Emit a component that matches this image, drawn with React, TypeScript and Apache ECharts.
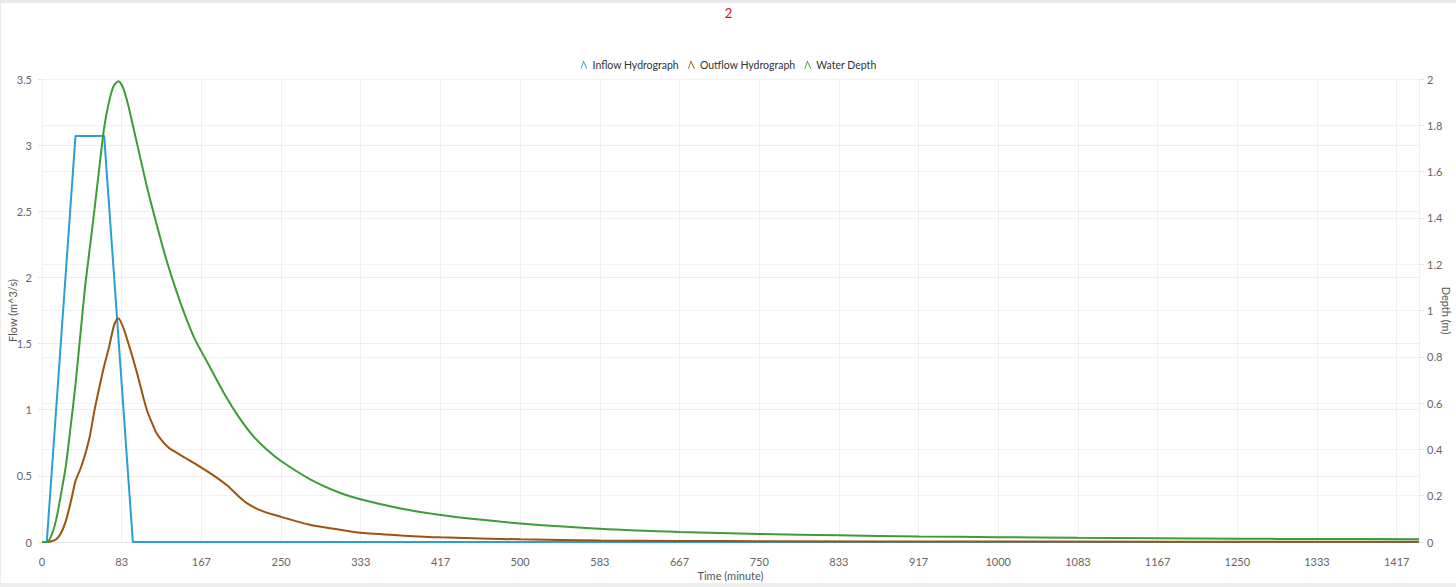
import React, { useEffect, useRef } from "react";
import * as echarts from "echarts";

const chartTitle = "2";
const seriesNames = ["Inflow Hydrograph", "Outflow Hydrograph", "Water Depth"];

// [time (minute), flow (m^3/s)]
const inflow: [number, number][] = [
  [0, 0], [5, 0], [35, 3.07], [65, 3.07], [95, 0], [1440, 0],
];

// [time (minute), flow (m^3/s)]
const outflow: [number, number][] = [
  [0, 0], [5, 0], [10, 0.005], [15, 0.02], [20, 0.07], [25, 0.16], [30, 0.3],
  [35, 0.46], [40, 0.55], [45, 0.66], [50, 0.8], [55, 1.0], [60, 1.17],
  [65, 1.33], [70, 1.47], [75, 1.63], [78, 1.68], [80, 1.69], [85, 1.62],
  [90, 1.51], [95, 1.39], [100, 1.26], [105, 1.12], [110, 0.99], [115, 0.9],
  [120, 0.82], [125, 0.77], [130, 0.73], [135, 0.7], [150, 0.635], [165, 0.57],
  [180, 0.5], [195, 0.42], [205, 0.35], [215, 0.29], [230, 0.235], [250, 0.19],
  [280, 0.13], [310, 0.095], [333, 0.07], [375, 0.05], [417, 0.035],
  [500, 0.02], [583, 0.012], [667, 0.008], [750, 0.006], [1000, 0.003],
  [1440, 0.001],
];

// [time (minute), depth (m)]
const depth: [number, number][] = [
  [0, 0], [5, 0], [10, 0.03], [15, 0.1], [20, 0.21], [25, 0.33], [30, 0.5],
  [35, 0.68], [40, 0.89], [45, 1.1], [50, 1.27], [55, 1.44], [60, 1.62],
  [65, 1.79], [70, 1.9], [75, 1.97], [80, 1.99], [85, 1.96], [90, 1.89],
  [95, 1.8], [100, 1.71], [110, 1.53], [120, 1.37], [130, 1.22], [140, 1.09],
  [150, 0.975], [160, 0.875], [175, 0.76], [190, 0.645], [205, 0.545],
  [220, 0.462], [235, 0.4], [250, 0.35], [280, 0.272], [310, 0.215],
  [333, 0.185], [375, 0.145], [417, 0.117], [460, 0.096], [500, 0.08],
  [583, 0.057], [667, 0.043], [750, 0.035], [833, 0.029], [917, 0.024],
  [1000, 0.021], [1083, 0.018], [1167, 0.016], [1250, 0.014], [1333, 0.013],
  [1440, 0.012],
];

const xMin = 0;
const xMax = 1440;
const xInterval = 250 / 3;
const flowMax = 3.5;
const flowInterval = 0.5;
const depthMax = 2;
const depthInterval = 0.2;

const colors = ["#2a9fd6", "#a0520f", "#3e9b36"];
const FONT = "Lato, 'Noto Sans', sans-serif";
const iconPath = "path://M0,12 L4.2,0 L10,12 L8.6,12 L4.3,3.2 L1.3,12 Z";

export default function App() {
  const ref = useRef<HTMLDivElement>(null);

  useEffect(() => {
    if (!ref.current) return;
    const chart = echarts.init(ref.current, undefined, { renderer: "svg" });
    const axisLabelStyle = { color: "#666", fontSize: 11, fontFamily: FONT };
    const nameStyle = { color: "#555", fontSize: 11, fontFamily: FONT };
    chart.setOption({
      animation: false,
      backgroundColor: "#fff",
      color: colors,
      textStyle: { fontFamily: FONT },
      title: {
        text: chartTitle,
        left: "center",
        top: 3,
        padding: 0,
        textStyle: { color: "#d41414", fontSize: 13, fontWeight: "normal", fontFamily: FONT },
      },
      legend: {
        top: 51,
        left: "center",
        itemWidth: 7,
        itemHeight: 11,
        itemGap: 9,
        icon: iconPath,
        textStyle: { color: "#333", fontSize: 10.5, fontFamily: FONT },
        data: seriesNames,
      },
      grid: {
        left: 41,
        right: 37,
        top: 76,
        bottom: 41,
        containLabel: false,
        outerBoundsMode: "none",
      },
      xAxis: {
        type: "value",
        min: xMin,
        max: xMax,
        interval: xInterval,
        name: "Time (minute)",
        nameLocation: "middle",
        nameGap: 28,
        nameMoveOverlap: false,
        nameTextStyle: nameStyle,
        axisLine: { show: true, lineStyle: { color: "#e3e3e3" } },
        axisTick: { show: false },
        axisLabel: {
          ...axisLabelStyle,
          margin: 14,
          showMaxLabel: false,
          formatter: (v: number) => String(Math.round(v)),
        },
        splitLine: { show: true, lineStyle: { color: "#f0f0f0" } },
      },
      yAxis: [
        {
          type: "value",
          min: 0,
          max: flowMax,
          interval: flowInterval,
          name: "Flow (m^3/s)",
          nameLocation: "middle",
          nameGap: 24,
          nameMoveOverlap: false,
          nameTextStyle: nameStyle,
          axisLine: { show: false },
          axisTick: { show: true, length: 4, lineStyle: { color: "#e6e6e6" } },
          axisLabel: { ...axisLabelStyle, margin: 10 },
          splitLine: { show: true, lineStyle: { color: "#ededed" } },
        },
        {
          type: "value",
          min: 0,
          max: depthMax,
          interval: depthInterval,
          name: "Depth (m)",
          nameLocation: "middle",
          nameGap: 22,
          nameRotate: -90,
          nameMoveOverlap: false,
          nameTextStyle: nameStyle,
          axisLine: { show: false },
          axisTick: { show: true, length: 5, lineStyle: { color: "#e6e6e6" } },
          axisLabel: { ...axisLabelStyle, margin: 8 },
          splitLine: { show: true, lineStyle: { color: "#f2f2f2" } },
        },
      ],
      series: [
        {
          name: seriesNames[0],
          type: "line",
          data: inflow,
          showSymbol: false,
          yAxisIndex: 0,
          lineStyle: { width: 2, color: colors[0] },
          itemStyle: { color: colors[0] },
          z: 3,
        },
        {
          name: seriesNames[1],
          type: "line",
          data: outflow,
          showSymbol: false,
          smooth: 0.25,
          yAxisIndex: 0,
          lineStyle: { width: 2, color: colors[1] },
          itemStyle: { color: colors[1] },
          z: 4,
        },
        {
          name: seriesNames[2],
          type: "line",
          data: depth,
          showSymbol: false,
          smooth: 0.25,
          yAxisIndex: 1,
          lineStyle: { width: 2, color: colors[2] },
          itemStyle: { color: colors[2] },
          z: 5,
        },
      ],
    });
    return () => chart.dispose();
  }, []);

  return (
    <div
      style={{
        position: "fixed",
        top: 0,
        left: 0,
        width: 1456,
        height: 587,
        boxSizing: "border-box",
        borderTop: "3px solid #e8e8e8",
        borderBottom: "4px solid #ececec",
        borderLeft: "1px solid #ececec",
        background: "#fff",
      }}
    >
      <div ref={ref} style={{ width: "100%", height: "100%" }} />
    </div>
  );
}
